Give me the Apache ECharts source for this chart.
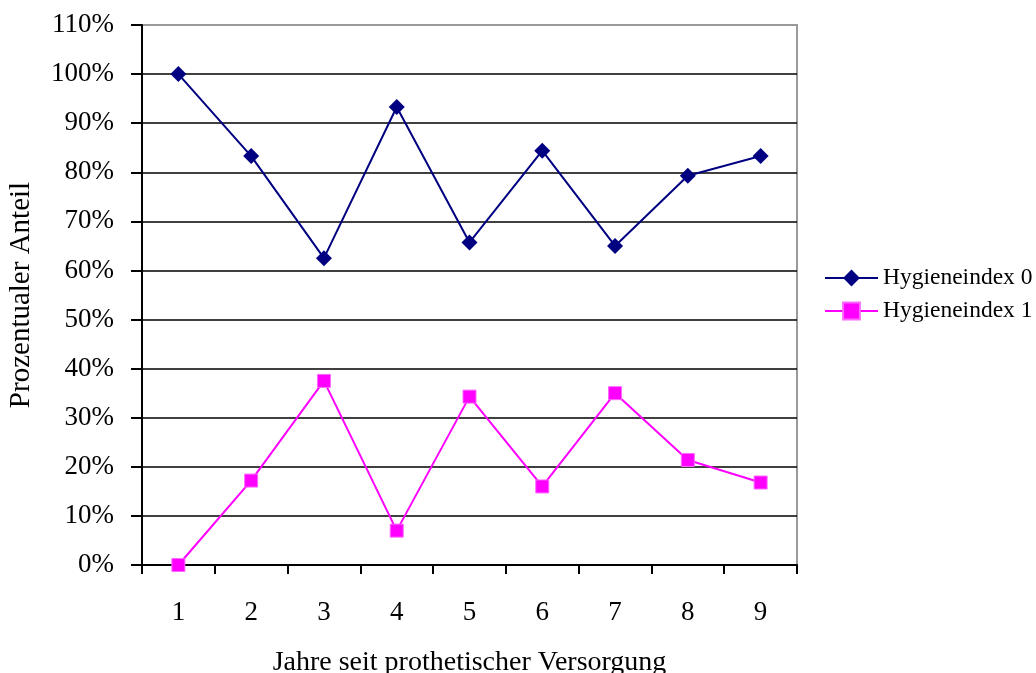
<!DOCTYPE html>
<html>
<head>
<meta charset="utf-8">
<title>Hygieneindex</title>
<script src="https://cdn.jsdelivr.net/npm/echarts@6/dist/echarts.min.js"></script>
<style>
  html, body { margin: 0; padding: 0; background: #ffffff; }
  #chart { width: 1036px; height: 673px; }
</style>
</head>
<body>
<div id="chart"></div>
<script>
// Years since prosthetic treatment
const years = ['1', '2', '3', '4', '5', '6', '7', '8', '9'];
// Share of patients per hygiene index (percent)
const hygiene0 = [100, 83.3, 62.5, 93.3, 65.7, 84.4, 65.0, 79.3, 83.3];
const hygiene1 = [0, 17.2, 37.5, 7.0, 34.3, 16.0, 35.0, 21.4, 16.8];
const seriesNames = ['Hygieneindex 0', 'Hygieneindex 1'];
const xTitle = 'Jahre seit prothetischer Versorgung';
const yTitle = 'Prozentualer Anteil';

const serif = "'Liberation Serif', 'Times New Roman', serif";

// Grid lines black, the one at the top edge grey like the frame
const splitColors = [];
for (let v = 0; v <= 110; v += 10) splitColors.push(v === 110 ? '#9a9a9a' : '#000000');

const chart = echarts.init(document.getElementById('chart'), null, { renderer: 'canvas' });
chart.setOption({
  animation: false,
  backgroundColor: '#ffffff',
  grid: {
    left: 142, right: 239, top: 25, bottom: 108,
    outerBoundsMode: 'none',
    containLabel: false,
    show: true, borderColor: '#9a9a9a', borderWidth: 2, backgroundColor: 'transparent'
  },
  legend: {
    orient: 'vertical',
    left: 824, top: 266,
    padding: 0,
    itemWidth: 53, itemHeight: 21, itemGap: 9,
    textStyle: { fontFamily: serif, fontSize: 23.5, color: '#000' },
    data: seriesNames
  },
  xAxis: {
    type: 'category',
    data: years,
    boundaryGap: true,
    name: xTitle,
    nameLocation: 'middle',
    nameGap: 84,
    nameTextStyle: { fontFamily: serif, fontSize: 28, color: '#000' },
    axisLine: { lineStyle: { color: '#000', width: 2 } },
    axisTick: { show: true, length: 9, lineStyle: { color: '#000', width: 2 } },
    axisLabel: { fontFamily: serif, fontSize: 27, color: '#000', margin: 34 },
    splitLine: { show: false }
  },
  yAxis: {
    type: 'value',
    min: 0, max: 110, interval: 10,
    name: yTitle,
    nameLocation: 'middle',
    nameGap: 106,
    nameTextStyle: { fontFamily: serif, fontSize: 29, color: '#000' },
    axisLine: { show: true, lineStyle: { color: '#000', width: 2 } },
    axisTick: { show: true, length: 11, lineStyle: { color: '#000', width: 2 } },
    axisLabel: { fontFamily: serif, fontSize: 27, color: '#000', margin: 28, formatter: '{value}%' },
    splitLine: { show: true, lineStyle: { color: splitColors, width: 1.5 } }
  },
  series: [
    {
      name: seriesNames[0],
      type: 'line',
      data: hygiene0,
      symbol: 'diamond',
      symbolSize: 16,
      showAllSymbol: true,
      lineStyle: { color: '#000080', width: 2 },
      itemStyle: { color: '#000080', borderWidth: 0 },
      z: 3
    },
    {
      name: seriesNames[1],
      type: 'line',
      data: hygiene1,
      symbol: 'rect',
      symbolSize: 13,
      showAllSymbol: true,
      lineStyle: { color: '#ff00ff', width: 2 },
      itemStyle: { color: '#ff00ff', borderColor: '#ff66ff', borderWidth: 1 },
      z: 3
    }
  ]
});
</script>
</body>
</html>
